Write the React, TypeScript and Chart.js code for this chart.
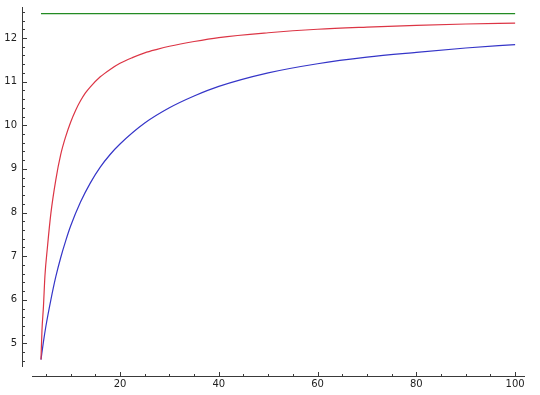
import { useEffect, useRef } from 'react';
import { Chart, registerables } from 'chart.js';

Chart.register(...registerables);

// ---- data ----
const LIMIT_X = [4, 100];
const LIMIT_Y = [12.56, 12.56];

const RED_X = [4, 4.2, 4.5, 4.8, 5.3, 6, 7, 8, 9, 10, 11, 12, 13, 14, 16, 18, 20, 22.5, 25, 27.5, 30, 35, 40, 50, 60, 70, 80, 90, 100];
const RED_Y = [4.63, 5.3, 5.85, 6.55, 7.2, 7.98, 8.75, 9.33, 9.74, 10.07, 10.34, 10.56, 10.74, 10.88, 11.11, 11.28, 11.42, 11.55, 11.66, 11.74, 11.81, 11.92, 12.01, 12.12, 12.2, 12.25, 12.29, 12.32, 12.34];

const BLUE_X = [4, 4.5, 5, 6, 7, 8, 9, 10, 12, 14, 16, 18, 20, 25, 30, 35, 40, 50, 60, 70, 80, 90, 100];
const BLUE_Y = [4.63, 5.04, 5.4, 6.0, 6.53, 6.97, 7.35, 7.69, 8.24, 8.68, 9.04, 9.33, 9.57, 10.05, 10.4, 10.67, 10.89, 11.2, 11.41, 11.56, 11.67, 11.77, 11.85];

const X_RANGE = [2.18, 102];
const Y_RANGE = [4.46, 12.71];
const X_TICKS = [20, 40, 60, 80, 100];
const Y_TICKS = [5, 6, 7, 8, 9, 10, 11, 12];
const X_TICK_MAJOR = 20;
const X_TICK_MINOR = 5;
const Y_TICK_MAJOR = 1;
const Y_TICK_MINOR = 0.2;

const toPoints = (xs: number[], ys: number[]) => xs.map((x, i) => ({ x, y: ys[i] }));

const AXIS_COLOR = '#3a3a3a';

const sageAxes = {
  id: 'sageAxes',
  afterDraw(chart: any) {
    const { ctx, chartArea, scales } = chart;
    const xs = scales.x;
    const ys = scales.y;
    const xAxisY = chartArea.bottom + 9.5;
    const yAxisX = chartArea.left - 9.5;
    ctx.save();
    ctx.strokeStyle = AXIS_COLOR;
    ctx.lineWidth = 1;
    ctx.beginPath();
    ctx.moveTo(chartArea.left, xAxisY);
    ctx.lineTo(chartArea.right, xAxisY);
    ctx.moveTo(yAxisX, chartArea.top);
    ctx.lineTo(yAxisX, chartArea.bottom);
    ctx.stroke();
    ctx.beginPath();
    for (let k = Math.ceil(X_RANGE[0] / X_TICK_MINOR); k * X_TICK_MINOR <= X_RANGE[1] + 1e-9; k++) {
      const v = k * X_TICK_MINOR;
      const major = Math.abs(v / X_TICK_MAJOR - Math.round(v / X_TICK_MAJOR)) < 1e-6;
      const px = Math.round(xs.getPixelForValue(v)) + 0.5;
      ctx.moveTo(px, xAxisY);
      ctx.lineTo(px, xAxisY - (major ? 4.5 : 2.5));
    }
    for (let k = Math.ceil(Y_RANGE[0] / Y_TICK_MINOR); k * Y_TICK_MINOR <= Y_RANGE[1] + 1e-9; k++) {
      const v = k * Y_TICK_MINOR;
      const major = Math.abs(v / Y_TICK_MAJOR - Math.round(v / Y_TICK_MAJOR)) < 1e-6;
      const py = Math.round(ys.getPixelForValue(v)) + 0.5;
      ctx.moveTo(yAxisX, py);
      ctx.lineTo(yAxisX + (major ? 4.5 : 2.5), py);
    }
    ctx.stroke();
    ctx.restore();
  },
};

export default function App() {
  const ref = useRef<HTMLCanvasElement | null>(null);

  useEffect(() => {
    if (!ref.current) return;
    const font = { family: '"DejaVu Sans", sans-serif', size: 10 };
    const chart = new Chart(ref.current, {
      type: 'scatter',
      data: {
        datasets: [
          {
            data: toPoints(LIMIT_X, LIMIT_Y),
            showLine: true,
            borderColor: '#238b23',
            borderWidth: 1.2,
            pointRadius: 0,
          },
          {
            data: toPoints(RED_X, RED_Y),
            showLine: true,
            borderColor: '#dc3545',
            borderWidth: 1.2,
            pointRadius: 0,
            cubicInterpolationMode: 'monotone',
          },
          {
            data: toPoints(BLUE_X, BLUE_Y),
            showLine: true,
            borderColor: '#3535c8',
            borderWidth: 1.2,
            pointRadius: 0,
            cubicInterpolationMode: 'monotone',
          },
        ],
      },
      options: {
        animation: false,
        responsive: true,
        maintainAspectRatio: false,
        layout: { padding: { top: 7, right: 15, left: 0, bottom: 0 } },
        plugins: { legend: { display: false }, tooltip: { enabled: false } },
        scales: {
          x: {
            type: 'linear',
            min: X_RANGE[0],
            max: X_RANGE[1],
            grid: { display: false, drawTicks: false },
            border: { display: false },
            afterBuildTicks: (s: any) => { s.ticks = X_TICKS.map((value) => ({ value })); },
            ticks: {
              autoSkip: false,
              maxRotation: 0,
              padding: 11,
              color: '#222',
              font,
              callback: (v: any) => String(v),
            },
            afterFit: (s: any) => {
              s.height = 28;
              s.paddingLeft = 0; s.paddingRight = 0; s.paddingTop = 0; s.paddingBottom = 0;
            },
          },
          y: {
            type: 'linear',
            min: Y_RANGE[0],
            max: Y_RANGE[1],
            grid: { display: false, drawTicks: false },
            border: { display: false },
            afterBuildTicks: (s: any) => { s.ticks = Y_TICKS.map((value) => ({ value })); },
            ticks: {
              autoSkip: false,
              padding: 15,
              color: '#222',
              font,
              callback: (v: any) => String(v),
            },
            afterFit: (s: any) => {
              s.width = 32;
              s.paddingLeft = 0; s.paddingRight = 0; s.paddingTop = 0; s.paddingBottom = 0;
            },
          },
        },
      },
      plugins: [sageAxes],
    });
    return () => chart.destroy();
  }, []);

  return (
    <div style={{ position: 'fixed', left: 0, top: 0, width: 540, height: 395, background: '#fff' }}>
      <canvas ref={ref} />
    </div>
  );
}
